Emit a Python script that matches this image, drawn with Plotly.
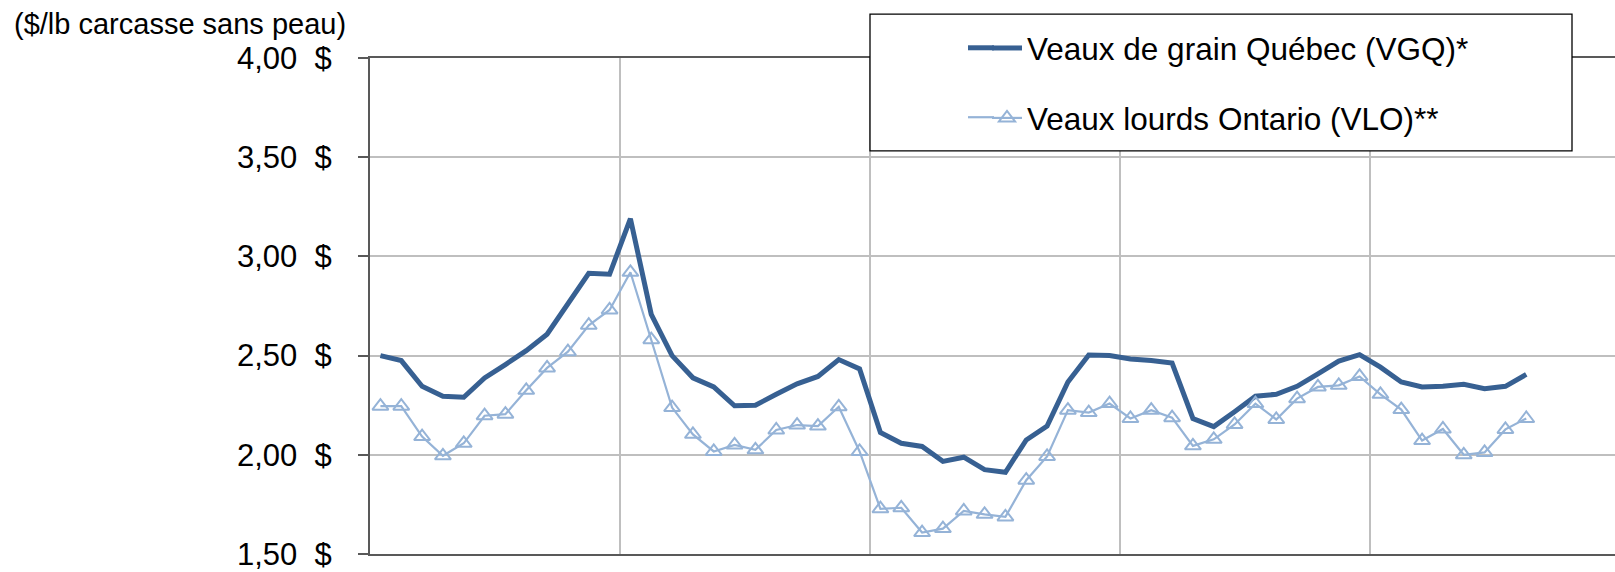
import plotly.graph_objects as go

# ---- data (monthly) ----
mois = list(range(56))  # month index, gridlines every 12 months

vgq = [2.50, 2.475, 2.345, 2.295, 2.29, 2.387, 2.455, 2.525, 2.608, 2.758, 2.915, 2.91,
       3.19, 2.708, 2.50, 2.388, 2.342, 2.247, 2.25, 2.305, 2.358, 2.395, 2.48, 2.433,
       2.112, 2.058, 2.042, 1.967, 1.988, 1.925, 1.912, 2.075, 2.145, 2.367, 2.503, 2.50,
       2.483, 2.475, 2.462, 2.183, 2.142, 2.217, 2.295, 2.305, 2.345, 2.408, 2.472, 2.505,
       2.442, 2.367, 2.342, 2.345, 2.355, 2.333, 2.345, 2.405]

vlo = [2.245, 2.245, 2.092, 1.995, 2.058, 2.197, 2.205, 2.325, 2.438, 2.52, 2.653, 2.73,
       2.92, 2.58, 2.238, 2.103, 2.017, 2.05, 2.025, 2.125, 2.15, 2.145, 2.242, 2.017,
       1.728, 1.733, 1.608, 1.628, 1.717, 1.70, 1.687, 1.872, 1.992, 2.225, 2.213, 2.258,
       2.183, 2.225, 2.187, 2.045, 2.078, 2.153, 2.258, 2.178, 2.283, 2.342, 2.35, 2.395,
       2.305, 2.228, 2.072, 2.13, 2.0, 2.012, 2.128, 2.183]

y_ticks = [1.5, 2.0, 2.5, 3.0, 3.5, 4.0]
y_ticktext = ["1,50\u00a0\u00a0$", "2,00\u00a0\u00a0$", "2,50\u00a0\u00a0$",
              "3,00\u00a0\u00a0$", "3,50\u00a0\u00a0$", "4,00\u00a0\u00a0$"]
year_bounds = [11.5, 23.5, 35.5, 47.5]

serie1 = "Veaux de grain Québec (VGQ)*"
serie2 = "Veaux lourds Ontario (VLO)**"
unit_label = "($/lb carcasse sans peau)"

FONT = "Liberation Sans, Arial, sans-serif"
DARK = "#376092"
LIGHT = "#95B3D7"

fig = go.Figure()
fig.add_trace(go.Scatter(
    x=mois, y=vgq, name=serie1, mode="lines", legendgroup="a",
    line=dict(color=DARK, width=5),
))
fig.add_trace(go.Scatter(
    x=mois, y=vlo, name=serie2, mode="lines+markers", legendgroup="b",
    line=dict(color=LIGHT, width=2.2),
    marker=dict(symbol="triangle-up-open", size=14, color=LIGHT, line=dict(width=2, color=LIGHT)),
))

W, H = 1615, 572
plot_left, plot_right, plot_top, plot_bottom = 370, 1615, 58.3, 558.3   # page pixels
L = plot_left
R = W - plot_right
T = plot_top
B = H - plot_bottom
pw = W - L - R
ph = H - T - B
per_cat = 250 / 12.0

def px_x(px):
    return (px - L) / pw

def px_y(py):
    return (H - B - py) / ph

legend_row1_y, legend_row2_y = 48, 118
sample_x0 = 968

fig.update_layout(
    width=W, height=H, autosize=False,
    margin=dict(l=L, r=R, t=T, b=B, pad=0),
    paper_bgcolor="white", plot_bgcolor="white",
    font=dict(family=FONT, color="black", size=31),
    showlegend=True,
    legend=dict(
        x=px_x(987), y=px_y(21), xanchor="left", yanchor="top",
        bgcolor="rgba(0,0,0,0)", borderwidth=0,
        font=dict(family=FONT, size=31.5, color="black"),
        tracegroupgap=26, traceorder="grouped",
    ),
    xaxis=dict(
        range=[-0.5, -0.5 + pw / per_cat],
        tickmode="array", tickvals=year_bounds, showticklabels=False,
        ticks="", showgrid=True, gridcolor="#BFBFBF", gridwidth=2,
        showline=True, linecolor="#595959", linewidth=2, mirror=True,
        zeroline=False, fixedrange=True,
    ),
    yaxis=dict(
        range=[1.5, 4.0], tickmode="array", tickvals=y_ticks, ticktext=y_ticktext,
        ticks="outside", ticklen=10, tickwidth=1.5, tickcolor="#595959",
        ticklabelstandoff=20, ticklabeloverflow="allow",
        showgrid=True, gridcolor="#BFBFBF", gridwidth=2,
        showline=True, linecolor="#595959", linewidth=2, mirror=False,
        zeroline=False, fixedrange=True,
        tickfont=dict(family=FONT, size=31, color="black"),
    ),
    shapes=[
        dict(type="rect", xref="paper", yref="paper",
             x0=px_x(870), x1=px_x(1572), y0=px_y(152), y1=px_y(14),
             fillcolor="white", line=dict(color="black", width=1.3), layer="above"),
        # extend legend samples to the left like the original legend
        dict(type="line", xref="paper", yref="paper",
             x0=px_x(sample_x0), x1=px_x(994), y0=px_y(legend_row1_y), y1=px_y(legend_row1_y),
             line=dict(color=DARK, width=5), layer="above"),
        dict(type="line", xref="paper", yref="paper",
             x0=px_x(sample_x0), x1=px_x(994), y0=px_y(legend_row2_y), y1=px_y(legend_row2_y),
             line=dict(color=LIGHT, width=2.2), layer="above"),
    ],
    annotations=[dict(
        text=unit_label, xref="paper", yref="paper",
        x=px_x(12), y=px_y(24), xanchor="left", yanchor="middle",
        showarrow=False, font=dict(family=FONT, size=29, color="black"),
    )],
)

fig.write_html("out.html", config={"displayModeBar": False},
               post_script="document.body.style.margin='0';")
